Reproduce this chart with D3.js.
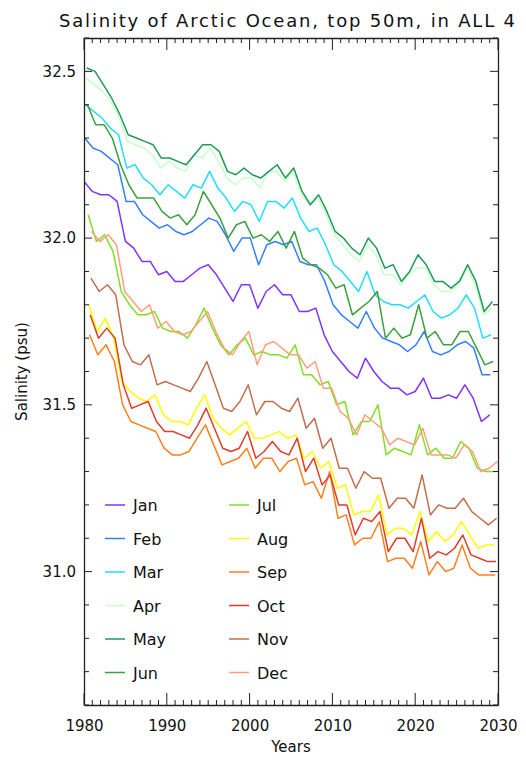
<!DOCTYPE html>
<html><head><meta charset="utf-8">
<script src="https://cdn.jsdelivr.net/npm/d3@7"></script>
<style>
html,body{margin:0;padding:0;background:#fff;}
svg{display:block;font-family:"DejaVu Sans",sans-serif;}
</style></head>
<body><svg id="chart" width="526" height="760"></svg>
<script>
const years = d3.range(1980, 2030);
const months = ["Jan","Feb","Mar","Apr","May","Jun","Jul","Aug","Sep","Oct","Nov","Dec"];
const colors = ["#8033ff","#3380ff","#22ddff","#c8ffc8","#1f9a5a","#3ca03c","#80e020","#ffff00","#ff7f1f","#e03c28","#c0704c","#ff9f80"];
const xTicks = [1980,1990,2000,2010,2020,2030];
const yTicks = [31.0,31.5,32.0,32.5];

const jan = [32.17,32.14,32.13,32.13,32.11,31.99,31.97,31.93,31.93,31.89,31.90,31.87,31.87,31.89,31.91,31.92,31.89,31.85,31.81,31.86,31.86,31.79,31.84,31.86,31.83,31.83,31.78,31.78,31.79,31.71,31.66,31.63,31.60,31.58,31.64,31.60,31.57,31.55,31.55,31.53,31.54,31.58,31.52,31.52,31.53,31.52,31.56,31.52,31.45,31.47];
const feb = [32.30,32.27,32.26,32.24,32.22,32.11,32.11,32.07,32.05,32.03,32.04,32.02,32.01,32.02,32.04,32.06,32.05,32.01,31.96,32.00,32.00,31.92,31.98,31.99,31.98,31.99,31.93,31.92,31.92,31.87,31.80,31.77,31.75,31.73,31.78,31.73,31.70,31.69,31.68,31.66,31.68,31.72,31.66,31.65,31.66,31.68,31.69,31.67,31.59,31.59];
const mar = [32.40,32.38,32.36,32.33,32.31,32.21,32.22,32.18,32.16,32.13,32.16,32.14,32.12,32.16,32.15,32.20,32.15,32.12,32.08,32.11,32.10,32.05,32.11,32.11,32.09,32.12,32.06,32.02,32.03,31.98,31.92,31.90,31.87,31.84,31.90,31.83,31.81,31.80,31.80,31.79,31.81,31.83,31.78,31.76,31.77,31.79,31.83,31.79,31.70,31.71];
const apr = [32.48,32.46,32.44,32.41,32.36,32.29,32.28,32.27,32.25,32.21,32.23,32.21,32.20,32.25,32.24,32.27,32.23,32.18,32.16,32.18,32.18,32.15,32.20,32.20,32.17,32.20,32.13,32.10,32.12,32.07,32.01,31.98,31.95,31.93,31.98,31.95,31.89,31.89,31.86,31.89,31.91,31.91,31.86,31.84,31.84,31.86,31.91,31.86,31.77,31.79];
const may = [32.51,32.50,32.46,32.42,32.37,32.31,32.30,32.29,32.28,32.24,32.24,32.23,32.22,32.25,32.28,32.28,32.26,32.20,32.19,32.21,32.19,32.18,32.20,32.22,32.18,32.21,32.14,32.10,32.13,32.08,32.02,32.00,31.97,31.95,32.00,31.97,31.91,31.92,31.87,31.90,31.95,31.92,31.87,31.87,31.85,31.87,31.92,31.87,31.78,31.81];
const jun = [32.40,32.34,32.34,32.30,32.22,32.16,32.12,32.12,32.12,32.08,32.06,32.07,32.04,32.07,32.14,32.10,32.06,32.00,32.04,32.05,32.00,32.01,31.99,32.02,31.97,32.02,31.94,31.92,31.91,31.89,31.85,31.86,31.77,31.79,31.81,31.84,31.70,31.73,31.70,31.71,31.80,31.70,31.72,31.68,31.68,31.72,31.72,31.67,31.62,31.63];
const jul = [32.07,31.99,32.01,31.96,31.84,31.80,31.77,31.77,31.78,31.73,31.72,31.72,31.70,31.74,31.79,31.73,31.68,31.65,31.68,31.70,31.65,31.66,31.65,31.65,31.64,31.68,31.59,31.59,31.56,31.57,31.50,31.51,31.41,31.45,31.45,31.50,31.35,31.37,31.36,31.35,31.44,31.35,31.37,31.34,31.34,31.39,31.37,31.31,31.30,31.30];
const aug = [31.80,31.72,31.76,31.70,31.57,31.54,31.52,31.51,31.53,31.47,31.45,31.45,31.44,31.49,31.53,31.46,31.43,31.41,31.43,31.45,31.40,31.40,31.41,31.42,31.40,31.41,31.34,31.36,31.31,31.33,31.25,31.26,31.17,31.18,31.18,31.23,31.11,31.13,31.13,31.11,31.18,31.09,31.12,31.09,31.11,31.15,31.11,31.07,31.08,31.08];
const sep = [31.71,31.65,31.68,31.63,31.50,31.45,31.44,31.43,31.42,31.37,31.35,31.35,31.36,31.40,31.44,31.38,31.32,31.33,31.34,31.37,31.31,31.34,31.34,31.30,31.33,31.34,31.26,31.27,31.22,31.30,31.16,31.17,31.08,31.10,31.10,31.15,31.03,31.04,31.04,31.01,31.09,30.99,31.03,31.00,31.01,31.08,31.01,30.99,30.99,30.99];
const oct = [31.77,31.70,31.73,31.70,31.56,31.49,31.50,31.51,31.45,31.42,31.42,31.41,31.40,31.44,31.49,31.43,31.37,31.36,31.37,31.42,31.34,31.36,31.39,31.36,31.35,31.40,31.30,31.34,31.26,31.29,31.20,31.20,31.11,31.16,31.15,31.18,31.06,31.10,31.10,31.06,31.16,31.04,31.06,31.05,31.07,31.11,31.05,31.04,31.03,31.03];
const nov = [31.88,31.84,31.86,31.83,31.68,31.63,31.62,31.65,31.56,31.57,31.56,31.55,31.54,31.58,31.63,31.56,31.49,31.48,31.51,31.56,31.47,31.51,31.51,31.49,31.48,31.52,31.43,31.46,31.37,31.40,31.31,31.31,31.25,31.30,31.28,31.28,31.19,31.22,31.22,31.19,31.29,31.17,31.20,31.19,31.19,31.22,31.18,31.16,31.14,31.16];
const dec = [32.02,31.99,32.01,31.98,31.84,31.81,31.78,31.80,31.73,31.75,31.72,31.71,31.72,31.75,31.78,31.72,31.67,31.65,31.69,31.72,31.62,31.68,31.69,31.67,31.65,31.65,31.61,31.63,31.55,31.55,31.48,31.46,31.41,31.47,31.45,31.43,31.38,31.40,31.39,31.38,31.43,31.35,31.35,31.35,31.34,31.38,31.36,31.30,31.31,31.33];

const series = [jan,feb,mar,apr,may,jun,jul,aug,sep,oct,nov,dec];

const svg = d3.select("#chart");
const L = 84, R = 498, T = 38, B = 705;
const x = d3.scaleLinear().domain([1980, 2030]).range([L, R]);
const y = d3.scaleLinear().domain([30.6, 32.6]).range([B, T]);
const axisColor = "#222";

// Title
svg.append("text").attr("x", 287).attr("y", 27).attr("text-anchor", "middle")
  .attr("font-size", 18).attr("fill", "#111")
  .attr("textLength", 456).attr("lengthAdjust", "spacing")
  .text("Salinity of Arctic Ocean, top 50m, in ALL 4");

// Lines
svg.append("clipPath").attr("id", "clip").append("rect")
  .attr("x", L).attr("y", T).attr("width", R - L).attr("height", B - T);
const line = d3.line().x(d => x(d[0])).y(d => y(d[1]));
const g = svg.append("g").attr("clip-path", "url(#clip)");
series.forEach((vals, m) => {
  const pts = vals.map((v, i) => [years[i] + m / 12, v]);
  g.append("path").datum(pts).attr("d", line)
    .attr("fill", "none").attr("stroke", colors[m]).attr("stroke-width", 1.5)
    .attr("stroke-linejoin", "round");
});

// Axes (ticks inside, mirrored)
const minorX = d3.range(1980, 2031);
const minorY = d3.range(30.6, 32.61, 0.1).map(v => +v.toFixed(1));
const axBottom = svg.append("g").attr("transform", `translate(0,${B})`)
  .call(d3.axisBottom(x).tickValues(xTicks).tickSize(0).tickPadding(15).tickFormat(d3.format("d")));
const axTop = svg.append("g").attr("transform", `translate(0,${T})`)
  .call(d3.axisTop(x).tickValues(xTicks).tickSize(0).tickFormat(""));
const axLeft = svg.append("g").attr("transform", `translate(${L},0)`)
  .call(d3.axisLeft(y).tickValues(yTicks).tickSize(0).tickPadding(8).tickFormat(d3.format(".1f")));
const axRight = svg.append("g").attr("transform", `translate(${R},0)`)
  .call(d3.axisRight(y).tickValues(yTicks).tickSize(0).tickFormat(""));
[axBottom, axTop, axLeft, axRight].forEach(a => {
  a.select(".domain").attr("stroke", axisColor).attr("stroke-width", 1.3);
  a.selectAll("text").attr("font-size", 15).attr("fill", "#111")
    .attr("font-family", "'DejaVu Sans',sans-serif");
});
const tk = svg.append("g").attr("stroke", axisColor).attr("stroke-width", 1);
minorX.forEach(yr => {
  const len = yr % 10 === 0 ? 12 : 5;
  tk.append("line").attr("x1", x(yr)).attr("x2", x(yr)).attr("y1", B).attr("y2", B - len);
  tk.append("line").attr("x1", x(yr)).attr("x2", x(yr)).attr("y1", T).attr("y2", T + len);
});
minorY.forEach(v => {
  const len = Math.abs(v * 2 - Math.round(v * 2)) < 1e-6 ? 8 : 5;
  tk.append("line").attr("x1", L).attr("x2", L + len).attr("y1", y(v)).attr("y2", y(v));
  tk.append("line").attr("x1", R).attr("x2", R - len).attr("y1", y(v)).attr("y2", y(v));
});

// Axis titles
svg.append("text").attr("x", (L + R) / 2).attr("y", 752).attr("text-anchor", "middle")
  .attr("font-size", 15).attr("fill", "#111").text("Years");
svg.append("text").attr("transform", `translate(27,${(T + B) / 2}) rotate(-90)`)
  .attr("text-anchor", "middle").attr("font-size", 15).attr("fill", "#111").text("Salinity (psu)");

// Legend
const lg = svg.append("g");
months.forEach((mo, m) => {
  const col = m < 6 ? 0 : 1;
  const row = m % 6;
  const lx = col === 0 ? 105 : 229;
  const ly = 505 + row * 33.5;
  lg.append("line").attr("x1", lx).attr("x2", lx + 20).attr("y1", ly).attr("y2", ly)
    .attr("stroke", colors[m]).attr("stroke-width", 1.5);
  lg.append("text").attr("x", lx + 28).attr("y", ly + 6).attr("font-size", 16)
    .attr("fill", "#111").text(mo);
});
</script></body></html>
